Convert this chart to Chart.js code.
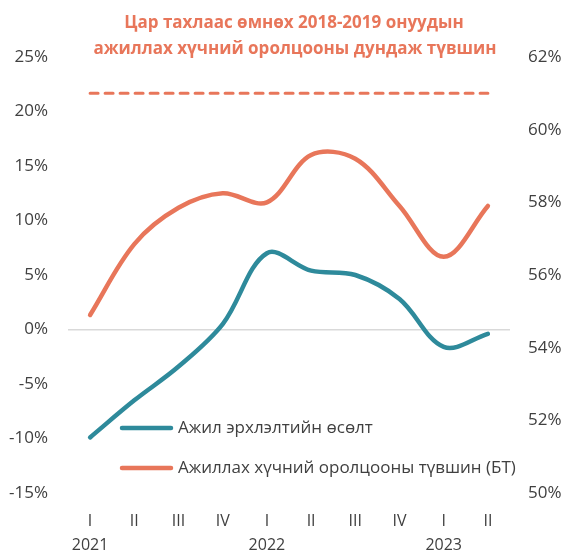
<!DOCTYPE html>
<html>
<head>
<meta charset="utf-8">
<script src="https://cdn.jsdelivr.net/npm/chart.js@4.4.1/dist/chart.umd.min.js"></script>
<style>
	html, body { margin: 0; padding: 0; background: #fff; }
	#wrap { width: 567px; height: 553px; position: relative; }
</style>
</head>
<body>
<div id="wrap"><canvas id="myChart" width="567" height="553"></canvas></div>
<script>
const quarters = [["I", "2021"], "II", "III", "IV", ["I", "2022"], "II", "III", "IV", ["I", "2023"], "II"];
const employmentGrowth = [-9.9, -6.5, -3.4, 0.5, 7.0, 5.4, 5.0, 2.8, -1.6, -0.4];
const participationRate = [54.9, 56.85, 57.85, 58.25, 58.0, 59.3, 59.2, 57.9, 56.5, 57.9];
const preCovidAverage = [61, 61, 61, 61, 61, 61, 61, 61, 61, 61];
const seriesNames = ["Ажил эрхлэлтийн өсөлт", "Ажиллах хүчний оролцооны түвшин (БТ)"];
const titleLines = ["Цар тахлаас өмнөх 2018-2019 онуудын", "ажиллах хүчний оролцооны дундаж түвшин"];

const teal = "#2E8A9B";
const orange = "#E8765A";
const textColor = "#404040";
const fontFamily = "'Open Sans', 'Noto Sans', sans-serif";

Chart.defaults.font.family = fontFamily;
Chart.defaults.font.size = 17;
Chart.defaults.color = textColor;

// title text and the legend sit inside the plot, so draw them by hand
const overlay = {
	id: "overlay",
	afterDraw(chart) {
		const c = chart.ctx;
		c.save();
		c.fillStyle = orange;
		c.font = "bold 17px " + fontFamily;
		c.textAlign = "center";
		c.textBaseline = "middle";
		c.fillText(titleLines[0], 294, 23);
		c.fillText(titleLines[1], 295, 49);

		const items = [chart.data.datasets[0], chart.data.datasets[1]];
		c.font = "17px " + fontFamily;
		c.textAlign = "left";
		items.forEach((ds, i) => {
			const y = 428 + i * 40;
			c.strokeStyle = ds.borderColor;
			c.lineWidth = 4.5;
			c.lineCap = "round";
			c.beginPath();
			c.moveTo(122, y);
			c.lineTo(171, y);
			c.stroke();
			c.fillStyle = textColor;
			c.fillText(ds.label, 178, y);
		});
		c.restore();
	},
};

new Chart(document.getElementById("myChart"), {
	type: "line",
	data: {
		labels: quarters,
		datasets: [
			{
				label: seriesNames[0],
				data: employmentGrowth,
				yAxisID: "y",
				borderColor: teal,
				borderWidth: 4.5,
				borderCapStyle: "round",
				pointRadius: 0,
				tension: 0.35,
			},
			{
				label: seriesNames[1],
				data: participationRate,
				yAxisID: "y1",
				borderColor: orange,
				borderWidth: 4.5,
				borderCapStyle: "round",
				pointRadius: 0,
				tension: 0.35,
			},
			{
				label: "avg",
				data: preCovidAverage,
				yAxisID: "y1",
				borderColor: orange,
				borderWidth: 3,
				borderDash: [8, 7],
				borderCapStyle: "round",
				pointRadius: 0,
			},
		],
	},
	options: {
		responsive: false,
		animation: false,
		layout: { padding: { top: 57, left: 0, right: 0, bottom: 0 } },
		plugins: {
			legend: { display: false },
			title: { display: false },
			tooltip: { enabled: false },
		},
		scales: {
			x: {
				offset: true,
				grid: { display: false, drawTicks: false },
				border: { display: false },
				ticks: { padding: 16, autoSkip: false, maxRotation: 0, font: { size: 16, lineHeight: 1.5 } },
				afterFit: (s) => { s.height = 60; },
			},
			y: {
				position: "left",
				min: -15,
				max: 25,
				grid: {
					drawTicks: false,
					color: (ctx) => (ctx.tick && ctx.tick.value === 0 ? "#d9d9d9" : "rgba(0,0,0,0)"),
					lineWidth: 1.5,
				},
				border: { display: false },
				ticks: { stepSize: 5, padding: 20, callback: (v) => v + "%" },
				afterFit: (s) => { s.width = 68; },
			},
			y1: {
				position: "right",
				min: 50,
				max: 62,
				grid: { display: false, drawTicks: false },
				border: { display: false },
				ticks: { stepSize: 2, padding: 18, callback: (v) => v + "%" },
				afterFit: (s) => { s.width = 57; },
			},
		},
	},
	plugins: [overlay],
});
</script>
</body>
</html>
